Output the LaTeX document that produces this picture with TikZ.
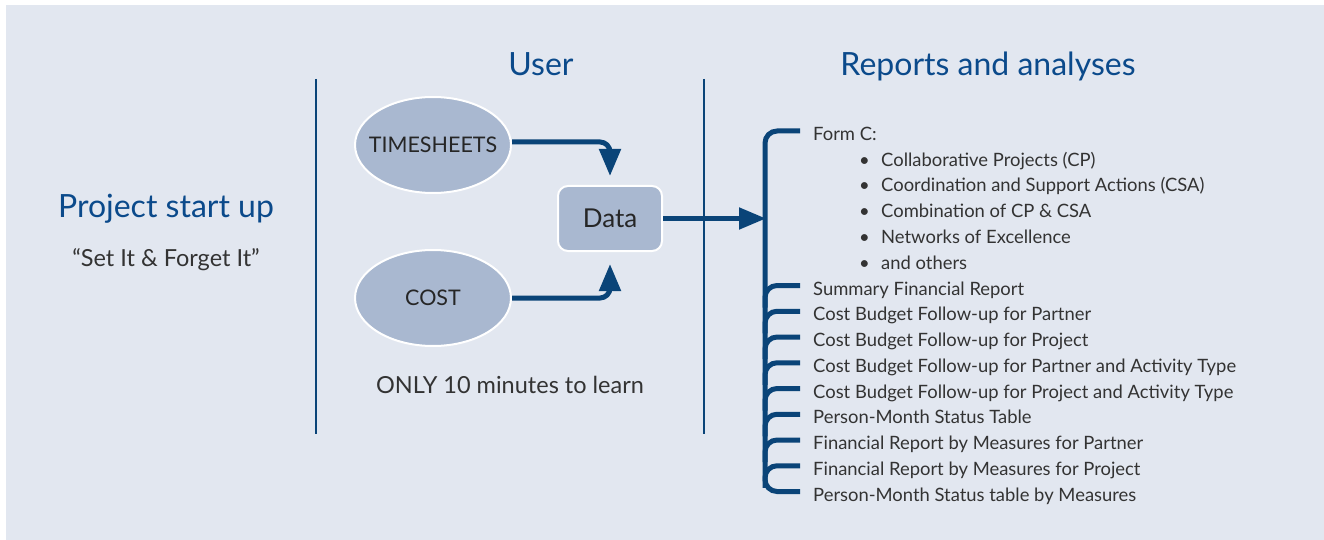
\documentclass[tikz,border=0pt]{standalone}
\usepackage{fontspec}
\setmainfont{Lato}
\usetikzlibrary{shapes.geometric,arrows.meta}
\definecolor{bg}{HTML}{E2E7F0}
\definecolor{navy}{HTML}{0A4478}
\definecolor{titleblue}{HTML}{0B4A8B}
\definecolor{ellfill}{HTML}{A9B8D0}
\definecolor{txt}{HTML}{333333}
\begin{document}
\begin{tikzpicture}[x=1pt,y=-1pt,
  titletext/.style={text=titleblue, font=\fontsize{32}{38}\selectfont, inner sep=0, anchor=base},
  plain/.style={text=txt, font=\fontsize{23.5}{28}\selectfont, inner sep=0, anchor=base},
  item/.style={text=txt, font=\fontsize{18.4}{22}\selectfont, inner sep=0, anchor=base west},
  blob/.style={ellipse, minimum width=156pt, minimum height=96pt, fill=ellfill, draw=white, line width=2pt, inner sep=0},
  blobtext/.style={inner sep=0, text=black!85, font=\fontsize{21.5}{25}\selectfont},
  databox/.style={rectangle, rounded corners=10pt, minimum width=104pt, minimum height=65pt, fill=ellfill, draw=white, line width=2pt, inner sep=0, text=black!85, font=\fontsize{26}{30}\selectfont},
  sep/.style={draw=navy, line width=2.5pt},
  conn/.style={draw=navy, line width=5pt, -{Triangle[length=27pt,width=21pt]}},
  brk/.style={draw=navy, line width=5pt, rounded corners=12pt}
]
\useasboundingbox (0,0) rectangle (1324,540);
\fill[white] (0,0) rectangle (1324,540);
\fill[bg] (6,5) rectangle (1324,540);

% left column
\node[titletext] (pst) at (166,217) {Project start up};
\node[plain] (sif) at (166,266) {“Set It \& Forget It”};

% separators
\coordinate (s1t) at (316,79); \coordinate (s1b) at (316,434);
\coordinate (s2t) at (704,79); \coordinate (s2b) at (704,434);
\draw[sep] (s1t) -- (s1b);
\draw[sep] (s2t) -- (s2b);

% user column
\node[titletext] (user) at (541,76) {User};
\node[blob] (ts) at (433,145) {};
\node[blobtext] (tst) at (ts.center) {TIMESHEETS};
\node[blob] (cost) at (433,298) {};
\node[blobtext] (costt) at (cost.center) {COST};
\node[databox] (data) at (610,218.5) {Data};
\node[plain] (learn) at (510,393) {ONLY 10 minutes to learn};

\draw[conn, rounded corners=10pt] ([yshift=3pt]ts.east) -| ([yshift=9pt]data.north);
\draw[conn, rounded corners=10pt] (cost.east) -| ([yshift=-12pt]data.south);
\coordinate (bin) at (766,218.5);
\draw[conn] (data.east) -- (bin);

% reports column
\node[titletext] (rep) at (988,76) {Reports and analyses};

\coordinate (btop) at (765,131);
\coordinate (bbot) at (765,491.5);
\coordinate (etop) at (800,131);
\coordinate (ebot) at (800,491.5);
\draw[brk] (etop) -- (btop) -- (bbot) -- (ebot);
\foreach \k in {6,...,13}{
  \coordinate (e\k) at (800,131+25.75*\k);
  \coordinate (v\k) at (765,131+25.75*\k);
  \draw[brk] (e\k) -- (v\k) -- ++(0,22);
}

\node[item] (i0) at (813,140.5) {Form C:};
\foreach \k/\t in {1/{Collaborative Projects (CP)},2/{Coordination and Support Actions (CSA)},3/{Combination of CP \& CSA},4/{Networks of Excellence},5/{and others}}{
  \node[item] (b\k) at (859,140.5+25.75*\k) {•};
  \node[item] (i\k) at (881,140.5+25.75*\k) {\t};
}
\foreach \k/\t in {6/{Summary Financial Report},7/{Cost Budget Follow-up for Partner},8/{Cost Budget Follow-up for Project},9/{Cost Budget Follow-up for Partner and Activity Type},10/{Cost Budget Follow-up for Project and Activity Type},11/{Person-Month Status Table},12/{Financial Report by Measures for Partner},13/{Financial Report by Measures for Project},14/{Person-Month Status table by Measures}}{
  \node[item] (i\k) at (813,140.5+25.75*\k) {\t};
}
\end{tikzpicture}
\end{document}
